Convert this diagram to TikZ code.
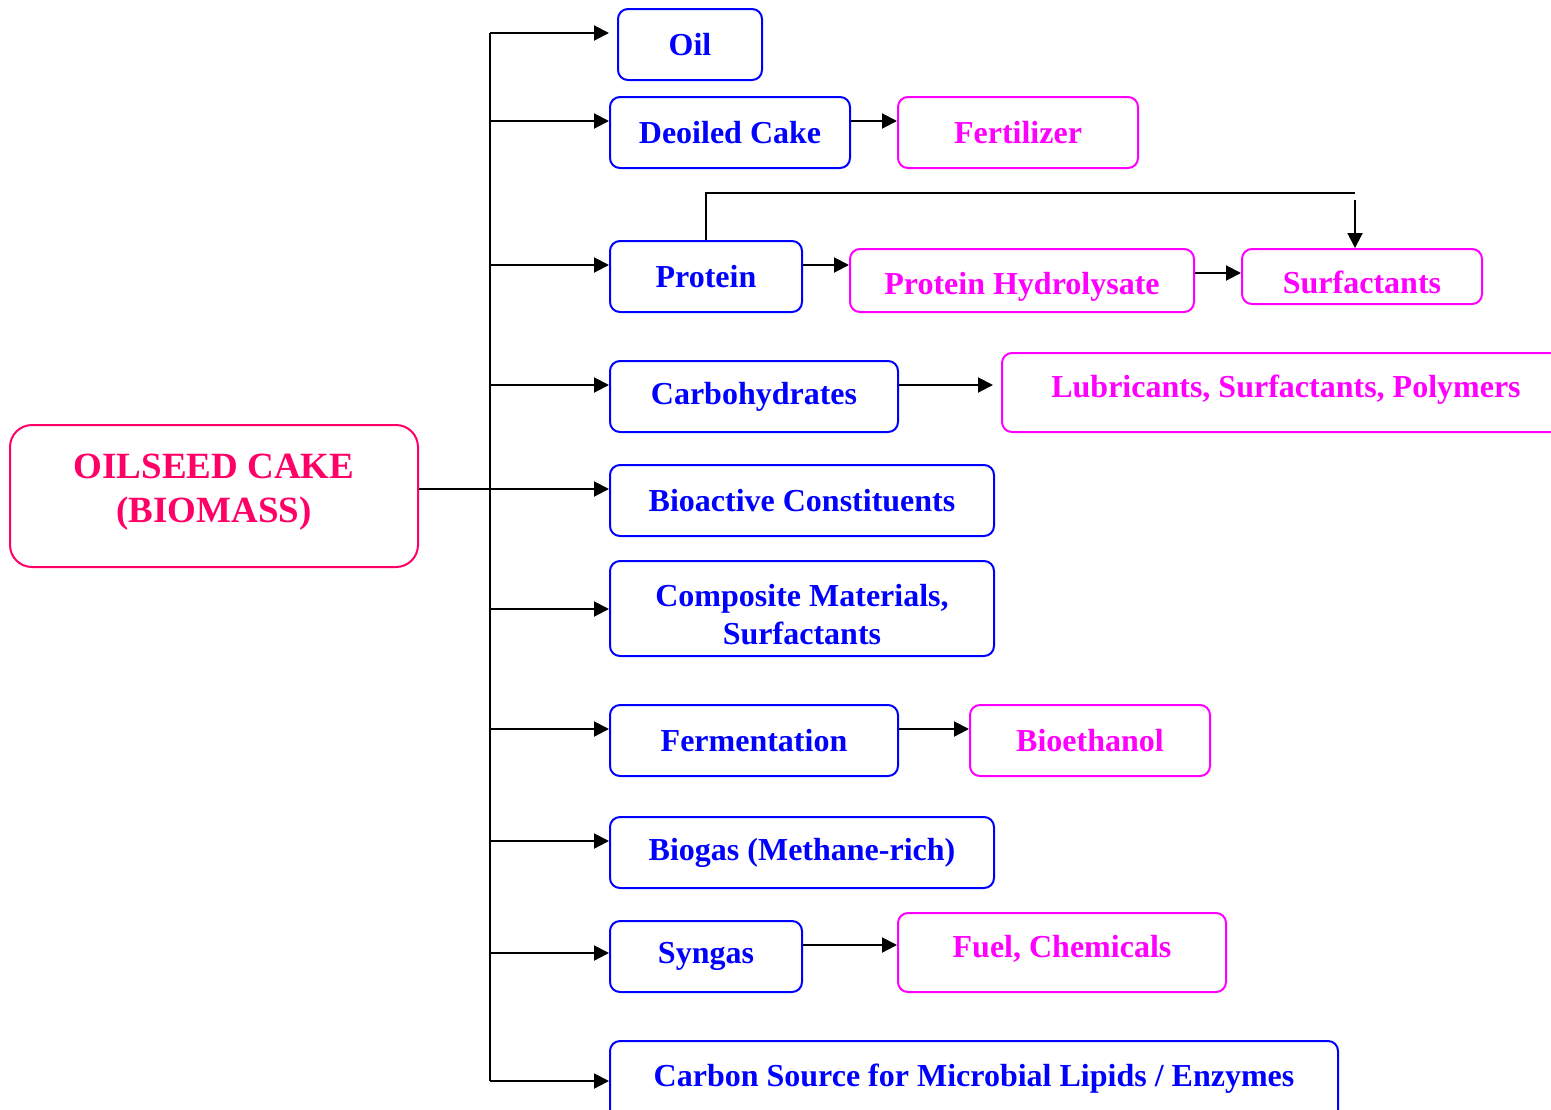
\documentclass[tikz,border=0pt]{standalone}
\usepackage{fontspec}
\setmainfont{Liberation Serif}
\usetikzlibrary{arrows.meta,positioning,calc}
\definecolor{boxblue}{RGB}{0,0,255}
\definecolor{boxpink}{RGB}{255,0,255}
\definecolor{rootred}{RGB}{255,0,102}

\begin{document}
\begin{tikzpicture}[x=0.5pt, y=-0.5pt,
    every node/.style={font=\fontsize{16}{19}\selectfont\bfseries, align=center, rounded corners=5pt, line width=1pt, inner sep=0pt, minimum height=35.5pt},
    bluebox/.style={draw=boxblue, text=boxblue},
    pinkbox/.style={draw=boxpink, text=boxpink},
    rootbox/.style={draw=rootred, text=rootred, rounded corners=11pt, font=\fontsize{18.5}{22}\selectfont\bfseries},
    link/.style={line width=1pt},
    arrow/.style={link, -{Triangle[length=7.5pt,width=7.5pt]}}]
    \useasboundingbox (0,0) rectangle (1551,1109);

    % Source
    \node[rootbox, minimum width=204pt, minimum height=71pt, text depth=8pt] (root) at (214,496) {OILSEED CAKE\\(BIOMASS)};

    % First level
    \node[bluebox, minimum width=72pt] (oil) at (690,44.5) {Oil};
    \node[bluebox, minimum width=120pt] (deoiled) at (730,132.5) {Deoiled Cake};
    \node[bluebox, minimum width=96pt] (protein) at (706,276.5) {Protein};
    \node[bluebox, minimum width=144pt] (carbo) at (754,396.5) {Carbohydrates};
    \node[bluebox, minimum width=192pt] (bioactive) at (802,500.5) {Bioactive Constituents};
    \node[bluebox, minimum width=192pt, minimum height=47.5pt] (composite) at (802,608.5) {\rule{0pt}{17pt}Composite Materials,\\Surfactants};
    \node[bluebox, minimum width=144pt] (ferment) at (754,740.5) {Fermentation};
    \node[bluebox, minimum width=192pt] (biogas) at (802,852.5) {Biogas (Methane-rich)};
    \node[bluebox, minimum width=96pt] (syngas) at (706,956.5) {Syngas};
    \node[bluebox, minimum width=364pt, minimum height=40pt, text depth=5.5pt] (carbon) at (974,1081) {Carbon Source for Microbial Lipids / Enzymes};

    % Products
    \node[pinkbox, minimum width=120pt] (fert) at (1018,132.5) {Fertilizer};
    \node[pinkbox, minimum width=172pt, minimum height=31.5pt, text height=17pt] (hydro) at (1022,280.5) {Protein Hydrolysate};
    \node[pinkbox, minimum width=120pt, minimum height=27.5pt, text height=17pt] (surf) at (1362,276.5) {Surfactants};
    \node[pinkbox, minimum width=284pt, minimum height=39.5pt, text depth=6pt] (lubri) at (1286,392.5) {Lubricants, Surfactants, Polymers};
    \node[pinkbox, minimum width=120pt] (bioeth) at (1090,740.5) {Bioethanol};
    \node[pinkbox, minimum width=164pt, minimum height=39.5pt, text depth=6pt] (fuel) at (1062,952.5) {Fuel, Chemicals};

    % Trunk and branches
    \foreach \n/\y/\s in {oil/33/4pt, deoiled/121/0pt, protein/265/0pt, carbo/385/0pt, bioactive/489/0pt, composite/609/0pt, ferment/729/0pt, biogas/841/0pt, syngas/953/0pt, carbon/1081/0pt}{
        \coordinate (t\n) at (490,\y);
        \draw[arrow, shorten >=\s] (t\n) -- (t\n -| \n.west);
    }
    \draw[link] (toil) -- (tcarbon);
    \draw[link] (root.east |- tbioactive) -- (tbioactive);

    % Side arrows
    \draw[arrow] ([yshift=5.75pt]deoiled.east) -- ([yshift=5.75pt]fert.west);
    \draw[arrow] ([yshift=5.75pt]protein.east) -- ([yshift=7.75pt]hydro.west);
    \draw[arrow] ([yshift=3.75pt]hydro.east) -- ([yshift=1.75pt]surf.west);
    \draw[arrow, shorten >=4pt] ([yshift=5.75pt]carbo.east) -- ([yshift=3.75pt]lubri.west);
    \draw[arrow] ([yshift=5.75pt]ferment.east) -- ([yshift=5.75pt]bioeth.west);
    \draw[arrow] ([yshift=5.75pt]syngas.east) -- ([yshift=3.75pt]fuel.west);

    % Protein to surfactants
    \coordinate (ploop) at (1355,193);
    \draw[link] (protein.north) |- (ploop);
    \draw[arrow] ([yshift=-3.5pt]ploop) -- (ploop |- surf.north);
\end{tikzpicture}
\end{document}
